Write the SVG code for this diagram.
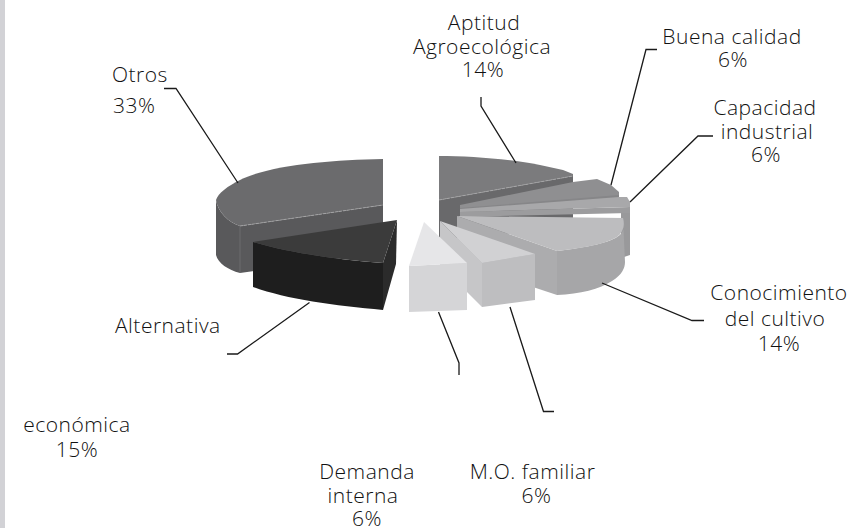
<svg xmlns="http://www.w3.org/2000/svg" width="854" height="528" viewBox="0 0 854 528">
<style>
text{font-family:"Open Sans","Noto Sans","Liberation Sans",sans-serif;font-size:21px;fill:#111111;font-weight:300;letter-spacing:0.5px}
.m{text-anchor:middle}
.ld{fill:none;stroke:#1a1a1a;stroke-width:1.3}
.edge{fill:none;stroke:#a8a8aa;stroke-width:0.8;stroke-dasharray:3 1}
</style>
<rect x="0" y="0" width="854" height="528" fill="#ffffff"/>
<rect x="0" y="0" width="5" height="528" fill="#d2d2d6"/>

<g id="otros">
<path d="M216,200 C218,212 228,222 240,226 L383,205 L383,252 L240,273 C228,270 218,263 216,255 Z" fill="#59595b"/>
<path d="M383,159 C330,160 270,165 240,180 C228,186 218,193 216,200 C218,212 228,222 240,226 L383,205 Z" fill="#6b6b6d"/>
<path d="M240,226 L383,205" class="edge"/>
<path d="M240,226 L240,273" stroke="#7a7a7c" stroke-width="0.6"/>
</g>

<g id="alternativa">
<path d="M253,242 C290,253 340,260 383,263 L383,310 C335,306 285,299 253,287 Z" fill="#1e1e1e"/>
<path d="M383,263 L397,220 L396,264 L383,310 Z" fill="#2b2b2b"/>
<path d="M253,242 L397,220 L383,263 C340,260 290,253 253,242 Z" fill="#3b3b3b"/>
</g>

<g id="aptitud">
<path d="M439,200 L573,176 L573,222 L439,246 Z" fill="#69696b"/>
<path d="M439,156 C470,156 510,159 540,165 L563,170 L573,174 L573,176 L439,200 Z" fill="#7b7b7d"/>
<path d="M439,200 L573,176" class="edge"/>
</g>

<g id="buena">
<path d="M460,207 L619,194 L619,200 L460,214 Z" fill="#868688"/>
<path d="M460,205 L573,182 L597,179 L611,185 L619,192 L619,195 L460,208 Z" fill="#8f8f91"/>
</g>

<g id="capacidad">
<path d="M621,210 L630,207 L630,255 L621,258 Z" fill="#99999b"/>
<path d="M460,212 L630,207 L630,213 L460,217 Z" fill="#9c9c9e"/>
<path d="M460,209 L619,197 L627,197 L630,202 L630,207 L460,212 Z" fill="#a8a8aa"/>
</g>

<g id="conocimiento">
<path d="M457,216 L557,251 L557,295 L457,262 Z" fill="#acacae"/>
<path d="M623,218 C625,225 625,232 617,237 C610,242 590,247 557,251 L557,295 C580,294 600,289 612,281 C622,275 625,268 625,262 Z" fill="#a6a6a8"/>
<path d="M457,216 L623,218 C625,226 623,232 617,237 C605,244 585,248 557,251 Z" fill="#bdbdbf"/>
</g>

<g id="mo_familiar">
<path d="M440,221 L482,263 L482,307 L440,265 Z" fill="#c6c6c8"/>
<path d="M482,263 L535,254 L535,300 L482,307 Z" fill="#bebec0"/>
<path d="M440,221 L535,254 L482,263 Z" fill="#d1d1d3"/>
</g>

<g id="demanda">
<path d="M409,266 L467,263 L467,310 L409,312 Z" fill="#d5d5d7"/>
<path d="M424,222 L467,263 L409,266 Z" fill="#e6e6e8"/>
</g>

<g id="connectors">
<polyline class="ld" points="164,88.5 176,88.5 238,183"/>
<polyline class="ld" points="481,97 481,106 516,163"/>
<polyline class="ld" points="657,49.5 646,49.5 611,185"/>
<polyline class="ld" points="713,136 698,136 630,202"/>
<polyline class="ld" points="602,283 692,320.5 704,320.5"/>
<polyline class="ld" points="510,307 543.5,411.5 554,411.5"/>
<polyline class="ld" points="438.5,312 459,363 459,375"/>
<polyline class="ld" points="227,354 237.5,354 309.5,302.5"/>
</g>

<g id="labels">
<text class="m" x="484" y="30">Aptitud</text>
<text class="m" x="482" y="53.5">Agroecológica</text>
<text class="m" x="483" y="77">14%</text>
<text class="m" x="732" y="43.5">Buena calidad</text>
<text class="m" x="733" y="67">6%</text>
<text class="m" x="765" y="115">Capacidad</text>
<text class="m" x="767" y="139">industrial</text>
<text class="m" x="766" y="162">6%</text>
<text class="m" x="779" y="300">Conocimiento</text>
<text class="m" x="775" y="326">del cultivo</text>
<text class="m" x="779" y="351">14%</text>
<text x="112" y="82">Otros</text>
<text x="113" y="113">33%</text>
<text x="115" y="333">Alternativa</text>
<text class="m" x="77" y="432">económica</text>
<text class="m" x="77" y="457">15%</text>
<text class="m" x="367" y="479">Demanda</text>
<text class="m" x="363" y="503">interna</text>
<text class="m" x="367" y="526">6%</text>
<text class="m" x="532.5" y="479">M.O. familiar</text>
<text class="m" x="536.5" y="503">6%</text>
</g>
</svg>
